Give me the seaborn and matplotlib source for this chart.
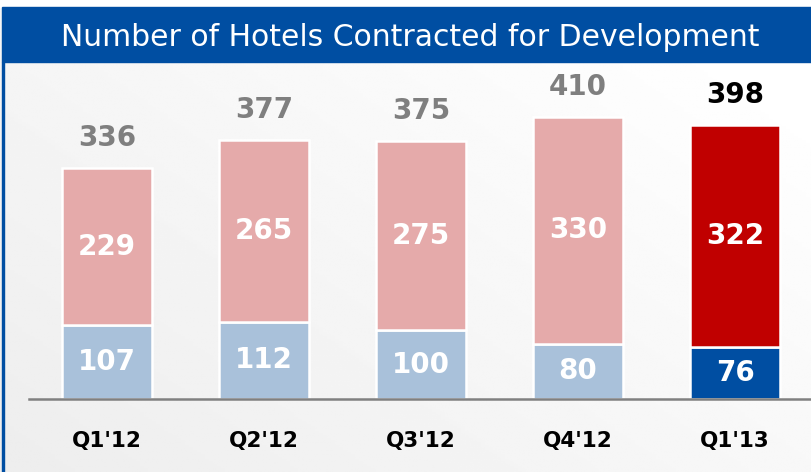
import numpy as np
import seaborn as sns
import matplotlib.pyplot as plt
from matplotlib.patches import Rectangle

sns.set_theme(style="white")
plt.rcParams['font.family'] = ['DejaVu Sans']

quarters = ["Q1'12", "Q2'12", "Q3'12", "Q4'12", "Q1'13"]
existing = [107, 112, 100, 80, 76]
new_deals = [229, 265, 275, 330, 322]
totals = [336, 377, 375, 410, 398]

blue_colors = ["#A9C1DA", "#A9C1DA", "#A9C1DA", "#A9C1DA", "#004EA2"]
red_colors = ["#E5AAAA", "#E5AAAA", "#E5AAAA", "#E5AAAA", "#C00000"]
total_colors = ["#7F7F7F", "#7F7F7F", "#7F7F7F", "#7F7F7F", "#000000"]

W, H = 812, 472
fig = plt.figure(figsize=(W / 100, H / 100), dpi=100)

# background gradient
bg = fig.add_axes([0, 0, 1, 1])
gx, gy = np.meshgrid(np.linspace(0, 1, 200), np.linspace(0, 1, 200))
grad = 0.93 + 0.07 * np.clip(0.6 * gx + 0.5 * (1 - gy), 0, 1)
bg.imshow(grad, cmap="gray", vmin=0, vmax=1, aspect="auto", extent=[0, 1, 0, 1])
bg.set_axis_off()

# header band and left border
fig.patches.append(Rectangle((0, 1 - 7 / H), 1, 7 / H, transform=fig.transFigure,
                             color="white", zorder=1))
fig.patches.append(Rectangle((2 / W, (H - 62) / H), 1, 55 / H, transform=fig.transFigure,
                             color="#004EA2", zorder=2))
fig.patches.append(Rectangle((2 / W, 0), 2.5 / W, (H - 62) / H, transform=fig.transFigure,
                             color="#004EA2", zorder=2))
fig.text(0.5 + 4 / W, (H - 37) / H, "Number of Hotels Contracted for Development",
         color="white", fontsize=21.5, ha="center", va="center", zorder=3)

ax = fig.add_axes([29 / W, 73 / H, (W - 29) / W, (399 - 62) / H])
ax.patch.set_alpha(0)

sns.barplot(x=quarters, y=existing, color=blue_colors[0], saturation=1,
            width=0.573, edgecolor="white", linewidth=1.8, ax=ax)
sns.barplot(x=quarters, y=new_deals, bottom=existing, color=red_colors[0], saturation=1,
            width=0.573, edgecolor="white", linewidth=1.8, ax=ax)
n = len(quarters)
for patch, c in zip(ax.patches[:n], blue_colors):
    patch.set_facecolor(c)
for patch, c in zip(ax.patches[n:2 * n], red_colors):
    patch.set_facecolor(c)

for i in range(n):
    ax.text(i, existing[i] / 2, str(existing[i]), ha="center", va="center",
            color="white", fontsize=20, fontweight="bold")
    ax.text(i, existing[i] + new_deals[i] / 2, str(new_deals[i]), ha="center",
            va="center", color="white", fontsize=20, fontweight="bold")
    ax.text(i, totals[i] + 23, str(totals[i]), ha="center", va="bottom",
            color=total_colors[i], fontsize=20, fontweight="bold")

ax.set_xlim(-0.497, 4.49)
ax.set_ylim(0, 490)
ax.set_yticks([])
ax.set_xlabel("")
ax.set_ylabel("")
for s in ["top", "right", "left"]:
    ax.spines[s].set_visible(False)
ax.spines["bottom"].set_color("#808080")
ax.spines["bottom"].set_linewidth(1.8)
ax.tick_params(axis="x", length=0, pad=23, labelsize=15.5, labelcolor="black")
for lbl in ax.get_xticklabels():
    lbl.set_fontweight("bold")

fig.savefig("out.png", dpi=100)
